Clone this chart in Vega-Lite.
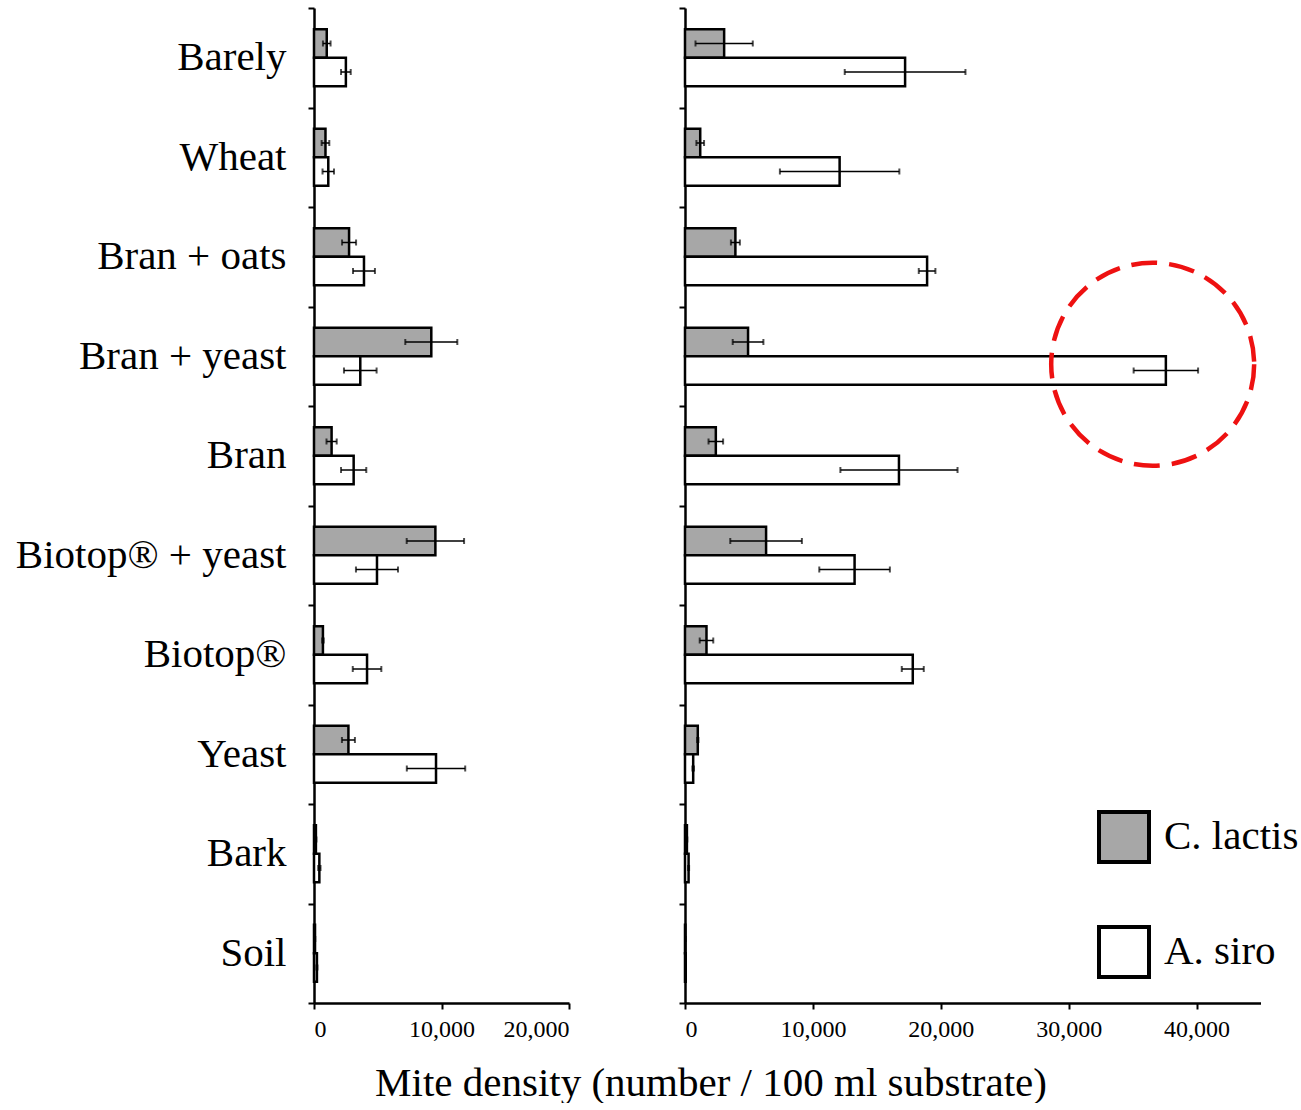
{
  "$schema": "https://vega.github.io/schema/vega-lite/v6.json",
  "background": "white",
  "padding": {"left": 15, "top": -13, "right": 5, "bottom": 0},
  "bounds": "flush",
  "spacing": 116,
  "config": {
    "view": {"stroke": null},
    "font": "Liberation Serif",
    "axis": {
      "domainColor": "black", "domainWidth": 2.5, "tickColor": "black", "tickWidth": 2, "tickSize": 6,
      "labelFont": "Liberation Serif", "labelColor": "black", "grid": false, "labelLimit": 0
    },
    "axisY": {"tickBand": "extent", "labelFontSize": 41, "labelPadding": 22},
    "axisX": {"labelFontSize": 24, "labelPadding": 8}
  },
  "resolve": {"scale": {"fill": "independent", "x": "independent"}, "legend": {"fill": "independent"}},
  "datasets": {
    "left": [
      {"cat": "Barely", "sp": "C. lactis", "v": 1000, "lo": 700, "hi": 1300},
      {"cat": "Barely", "sp": "A. siro", "v": 2500, "lo": 2120, "hi": 2880},
      {"cat": "Wheat", "sp": "C. lactis", "v": 900, "lo": 600, "hi": 1200},
      {"cat": "Wheat", "sp": "A. siro", "v": 1120, "lo": 670, "hi": 1570},
      {"cat": "Bran + oats", "sp": "C. lactis", "v": 2750, "lo": 2200, "hi": 3300},
      {"cat": "Bran + oats", "sp": "A. siro", "v": 3920, "lo": 3060, "hi": 4780},
      {"cat": "Bran + yeast", "sp": "C. lactis", "v": 9200, "lo": 7160, "hi": 11240},
      {"cat": "Bran + yeast", "sp": "A. siro", "v": 3630, "lo": 2350, "hi": 4910},
      {"cat": "Bran", "sp": "C. lactis", "v": 1380, "lo": 980, "hi": 1780},
      {"cat": "Bran", "sp": "A. siro", "v": 3110, "lo": 2120, "hi": 4100},
      {"cat": "Biotop® + yeast", "sp": "C. lactis", "v": 9520, "lo": 7270, "hi": 11770},
      {"cat": "Biotop® + yeast", "sp": "A. siro", "v": 4940, "lo": 3290, "hi": 6590},
      {"cat": "Biotop®", "sp": "C. lactis", "v": 700, "lo": 640, "hi": 760},
      {"cat": "Biotop®", "sp": "A. siro", "v": 4160, "lo": 3040, "hi": 5280},
      {"cat": "Yeast", "sp": "C. lactis", "v": 2700, "lo": 2190, "hi": 3210},
      {"cat": "Yeast", "sp": "A. siro", "v": 9570, "lo": 7280, "hi": 11860},
      {"cat": "Bark", "sp": "C. lactis", "v": 150, "lo": 110, "hi": 190},
      {"cat": "Bark", "sp": "A. siro", "v": 420, "lo": 330, "hi": 510},
      {"cat": "Soil", "sp": "C. lactis", "v": 80, "lo": 60, "hi": 100},
      {"cat": "Soil", "sp": "A. siro", "v": 230, "lo": 190, "hi": 270}
    ],
    "right": [
      {"cat": "Barely", "sp": "C. lactis", "v": 3060, "lo": 820, "hi": 5300},
      {"cat": "Barely", "sp": "A. siro", "v": 17210, "lo": 12490, "hi": 21930},
      {"cat": "Wheat", "sp": "C. lactis", "v": 1190, "lo": 890, "hi": 1490},
      {"cat": "Wheat", "sp": "A. siro", "v": 12090, "lo": 7420, "hi": 16760},
      {"cat": "Bran + oats", "sp": "C. lactis", "v": 3940, "lo": 3590, "hi": 4290},
      {"cat": "Bran + oats", "sp": "A. siro", "v": 18930, "lo": 18280, "hi": 19580},
      {"cat": "Bran + yeast", "sp": "C. lactis", "v": 4930, "lo": 3730, "hi": 6130},
      {"cat": "Bran + yeast", "sp": "A. siro", "v": 37600, "lo": 35080, "hi": 40120},
      {"cat": "Bran", "sp": "C. lactis", "v": 2410, "lo": 1840, "hi": 2980},
      {"cat": "Bran", "sp": "A. siro", "v": 16730, "lo": 12150, "hi": 21310},
      {"cat": "Biotop® + yeast", "sp": "C. lactis", "v": 6340, "lo": 3540, "hi": 9140},
      {"cat": "Biotop® + yeast", "sp": "A. siro", "v": 13260, "lo": 10500, "hi": 16020},
      {"cat": "Biotop®", "sp": "C. lactis", "v": 1680, "lo": 1150, "hi": 2210},
      {"cat": "Biotop®", "sp": "A. siro", "v": 17810, "lo": 16950, "hi": 18670},
      {"cat": "Yeast", "sp": "C. lactis", "v": 1000, "lo": 950, "hi": 1050},
      {"cat": "Yeast", "sp": "A. siro", "v": 640, "lo": 580, "hi": 700},
      {"cat": "Bark", "sp": "C. lactis", "v": 150, "lo": 120, "hi": 180},
      {"cat": "Bark", "sp": "A. siro", "v": 280, "lo": 240, "hi": 320},
      {"cat": "Soil", "sp": "C. lactis", "v": 30, "lo": 20, "hi": 40},
      {"cat": "Soil", "sp": "A. siro", "v": 60, "lo": 50, "hi": 70}
    ],
    "highlight": [
      {"cat": "Bran + yeast", "x": 36570}
    ]
  },
  "hconcat": [
    {
      "width": 255,
      "height": 995,
      "data": {"name": "left"},
      "encoding": {
        "y": {"field": "cat", "type": "nominal", "title": null,
              "sort": ["Barely", "Wheat", "Bran + oats", "Bran + yeast", "Bran", "Biotop® + yeast", "Biotop®", "Yeast", "Bark", "Soil"],
              "scale": {"paddingInner": 0, "paddingOuter": 0}},
        "yOffset": {"field": "sp", "type": "nominal", "sort": ["C. lactis", "A. siro"],
                    "scale": {"paddingInner": 0, "paddingOuter": 0.745}}
      },
      "layer": [
        {
          "mark": {"type": "bar", "stroke": "black", "strokeWidth": 2.5},
          "encoding": {
            "x": {"field": "v", "type": "quantitative", "title": null, "scale": {"domain": [0, 20000], "nice": false},
                  "axis": {"values": [0, 10000, 20000], "format": ",d", "labelFont": "Liberation Serif"}},
            "fill": {"field": "sp", "type": "nominal", "scale": {"domain": ["C. lactis", "A. siro"], "range": ["#a7a7a7", "#ffffff"]}, "legend": null}
          }
        },
        {
          "mark": {"type": "rule", "color": "black", "strokeWidth": 1.5},
          "encoding": {"x": {"field": "lo", "type": "quantitative"}, "x2": {"field": "hi"}}
        },
        {
          "mark": {"type": "tick", "color": "black", "thickness": 2, "size": 6, "orient": "vertical"},
          "encoding": {"x": {"field": "lo", "type": "quantitative"}}
        },
        {
          "mark": {"type": "tick", "color": "black", "thickness": 2, "size": 6, "orient": "vertical"},
          "encoding": {"x": {"field": "hi", "type": "quantitative"}}
        }
      ]
    },
    {
      "width": 575.5,
      "height": 995,
      "encoding": {
        "y": {"field": "cat", "type": "nominal", "title": null,
              "sort": ["Barely", "Wheat", "Bran + oats", "Bran + yeast", "Bran", "Biotop® + yeast", "Biotop®", "Yeast", "Bark", "Soil"],
              "scale": {"paddingInner": 0, "paddingOuter": 0}, "axis": {"labels": false}}
      },
      "layer": [
        {
          "data": {"name": "right"},
          "mark": {"type": "bar", "stroke": "black", "strokeWidth": 2.5},
          "encoding": {
            "yOffset": {"field": "sp", "type": "nominal", "sort": ["C. lactis", "A. siro"],
                        "scale": {"paddingInner": 0, "paddingOuter": 0.745}},
            "x": {"field": "v", "type": "quantitative", "scale": {"domain": [0, 45000], "nice": false},
                  "axis": {"values": [0, 10000, 20000, 30000, 40000], "format": ",d", "labelFont": "Liberation Serif",
                           "title": "Mite density (number / 100 ml substrate)",
                           "titleFont": "Liberation Serif", "titleFontSize": 41, "titleFontWeight": "normal", "titleColor": "black",
                           "titleX": 25.5, "titleY": 80, "titleAlign": "center", "titleBaseline": "middle", "titleAnchor": null}},
            "fill": {"field": "sp", "type": "nominal", "scale": {"domain": ["C. lactis", "A. siro"], "range": ["#a7a7a7", "#ffffff"]},
                     "legend": {"orient": "none", "legendX": 412, "legendY": 802, "title": null, "symbolType": "square",
                                "symbolSize": 2500, "symbolStrokeWidth": 4, "symbolStrokeColor": "black",
                                "labelFont": "Liberation Serif", "labelFontSize": 41, "labelColor": "black",
                                "labelOffset": 13, "rowPadding": 49}}
          }
        },
        {
          "data": {"name": "right"},
          "mark": {"type": "rule", "color": "black", "strokeWidth": 1.5},
          "encoding": {
            "yOffset": {"field": "sp", "type": "nominal", "sort": ["C. lactis", "A. siro"]},
            "x": {"field": "lo", "type": "quantitative"}, "x2": {"field": "hi"}}
        },
        {
          "data": {"name": "right"},
          "mark": {"type": "tick", "color": "black", "thickness": 2, "size": 6, "orient": "vertical"},
          "encoding": {
            "yOffset": {"field": "sp", "type": "nominal", "sort": ["C. lactis", "A. siro"]},
            "x": {"field": "lo", "type": "quantitative"}}
        },
        {
          "data": {"name": "right"},
          "mark": {"type": "tick", "color": "black", "thickness": 2, "size": 6, "orient": "vertical"},
          "encoding": {
            "yOffset": {"field": "sp", "type": "nominal", "sort": ["C. lactis", "A. siro"]},
            "x": {"field": "hi", "type": "quantitative"}}
        },
        {
          "data": {"name": "highlight"},
          "mark": {"type": "point", "shape": "circle", "filled": false, "size": 41200, "stroke": "#ee1111", "strokeWidth": 4.5, "strokeDash": [26, 12], "yOffset": 8, "opacity": 1},
          "encoding": {"x": {"field": "x", "type": "quantitative"}}
        }
      ]
    }
  ]
}
